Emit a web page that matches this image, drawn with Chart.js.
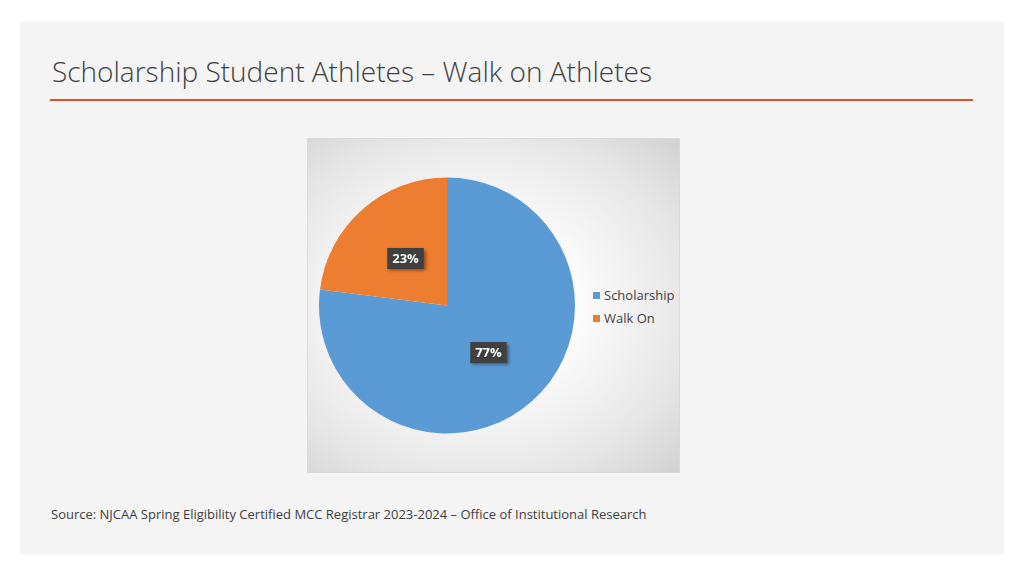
<!DOCTYPE html>
<html><head><meta charset="utf-8">
<script src="https://cdn.jsdelivr.net/npm/chart.js@4/dist/chart.umd.min.js"></script>
<style>
body{margin:0;width:1024px;height:576px;background:#fff;position:relative;font-family:"Open Sans","Noto Sans",sans-serif;overflow:hidden}
#slide{position:absolute;left:20px;top:22px;width:984px;height:532px;background:#f4f4f4}
#title{position:absolute;left:52px;top:52px;font-size:28px;color:#404040;font-weight:300;white-space:nowrap}
#rule{position:absolute;left:50px;top:99px;width:923px;height:2px;background:#e2502c}
#box{position:absolute;left:307px;top:138px;width:373px;height:335px;background:radial-gradient(ellipse at 45% 50%,#ffffff 30%,#e6e6e6 75%,#d2d2d2 100%);border:1px solid #d9d9d9;box-sizing:border-box}
#cv{position:absolute;left:307px;top:138px;width:280px;height:335px}
.lg{position:absolute;left:593px;font-size:13px;color:#404040;white-space:nowrap}
.lg span{display:inline-block;width:7px;height:7px;margin-right:4px;vertical-align:1px}
#src{position:absolute;left:51px;top:505px;font-size:13px;color:#404040;white-space:nowrap}
</style></head><body>
<div id="slide"></div>
<div id="title">Scholarship Student Athletes – Walk on Athletes</div>
<div id="rule"></div>
<div id="box"></div>
<div id="cv"><canvas id="c"></canvas></div>
<div class="lg" style="top:286px"><span style="background:#5b9bd5"></span>Scholarship</div>
<div class="lg" style="top:309px"><span style="background:#ed7d31"></span>Walk On</div>
<div id="src">Source: NJCAA Spring Eligibility Certified MCC Registrar 2023-2024 – Office of Institutional Research</div>
<script>
const categories=["Scholarship","Walk On"];
const values=[77,23];
const colors=["#5b9bd5","#ed7d31"];
const labelPlugin={id:'lbl',afterDatasetsDraw(chart){
 const ctx=chart.ctx;const meta=chart.getDatasetMeta(0);
 meta.data.forEach((arc,i)=>{
  const p=arc.getProps(['x','y','startAngle','endAngle','outerRadius'],true);
  const a=(p.startAngle+p.endAngle)/2, r=p.outerRadius*0.49;
  const x=p.x+Math.cos(a)*r, y=p.y+Math.sin(a)*r;
  const t=values[i]+'%';
  ctx.save();
  ctx.font='bold 13px "Open Sans"';
  const w=ctx.measureText(t).width+10,h=21;
  ctx.shadowColor='rgba(0,0,0,0.4)';ctx.shadowBlur=3;ctx.shadowOffsetX=2;ctx.shadowOffsetY=2;
  ctx.fillStyle='#404040';ctx.fillRect(x-w/2,y-h/2,w,h);
  ctx.shadowColor='transparent';
  ctx.fillStyle='#fff';ctx.textAlign='center';ctx.textBaseline='middle';
  ctx.fillText(t,x,y+1);
  ctx.restore();
 });
}};
new Chart(document.getElementById('c'),{type:'pie',
 data:{labels:categories,datasets:[{data:values,backgroundColor:colors,borderWidth:0}]},
 options:{responsive:true,maintainAspectRatio:false,animation:false,
  layout:{padding:{top:39,bottom:39,left:12,right:12}},
  plugins:{legend:{display:false},tooltip:{enabled:false}}},
 plugins:[labelPlugin]});
</script>
</body></html>
